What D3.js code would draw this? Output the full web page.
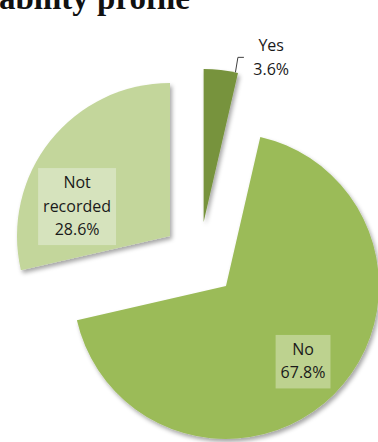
<!DOCTYPE html>
<html>
<head>
<meta charset="utf-8">
<script src="https://cdn.jsdelivr.net/npm/d3@7"></script>
<style>
  html, body { margin: 0; padding: 0; background: #fff; }
  svg { display: block; }
</style>
</head>
<body>
<svg id="chart" width="378" height="442"></svg>
<script>
// Slice data, drawn clockwise from 12 o'clock
const categories = ["Yes", "No", "Not recorded"];
const values = [3.6, 67.8, 28.6];
const labelLines = [["Yes", "3.6%"], ["No", "67.8%"], ["Not", "recorded", "28.6%"]];
const titleText = "ability profile";

const colors = d3.scaleOrdinal()
  .domain(categories)
  .range(["#77933c", "#9bbb59", "#c3d69b"]);
const boxColors = d3.scaleOrdinal()
  .domain(categories)
  .range(["none", "#bdd28f", "#d6e3bd"]);

const svg = d3.select("#chart");
const cx = 199.4, cy = 259.4;
const radius = 153;
const explode = 37.6;

// soft drop shadow under each slice
const defs = svg.append("defs");
const f = defs.append("filter").attr("id", "shadow")
  .attr("x", "-20%").attr("y", "-20%").attr("width", "140%").attr("height", "140%");
f.append("feDropShadow")
  .attr("dx", 2).attr("dy", 3).attr("stdDeviation", 2)
  .attr("flood-color", "#000").attr("flood-opacity", 0.35);

// title (runs off the top edge)
svg.append("text")
  .attr("x", -1).attr("y", 9)
  .attr("font-family", "'Liberation Serif', 'Times New Roman', serif")
  .attr("font-weight", "bold")
  .attr("font-size", 33)
  .attr("fill", "#111")
  .text(titleText);

const pie = d3.pie().sort(null).startAngle(0).endAngle(2 * Math.PI).value(d => d);
const arcs = pie(values);
const arc = d3.arc().innerRadius(0).outerRadius(radius);

function offsetOf(a) {
  const mid = (a.startAngle + a.endAngle) / 2;
  return [Math.sin(mid) * explode, -Math.cos(mid) * explode];
}

const g = svg.append("g").attr("transform", `translate(${cx},${cy})`);

const slices = g.selectAll("g.slice")
  .data(arcs)
  .join("g")
  .attr("class", "slice")
  .attr("transform", a => { const [dx, dy] = offsetOf(a); return `translate(${dx},${dy})`; });

slices.append("path")
  .attr("d", arc)
  .attr("fill", (a, i) => colors(categories[i]))
  .attr("filter", "url(#shadow)");

// label placement: angle (deg, clockwise from top) and distance from slice apex
const labelPlace = [
  { angle: 22.3, dist: 178 },   // outside, with leader
  { angle: 134.2, dist: 107.5 },
  { angle: 288, dist: 97.7 }
];
const fontFamily = "'Open Sans', 'Liberation Sans', sans-serif";
const fontSize = 16;
const lineH = 23.5;

arcs.forEach((a, i) => {
  const [dx, dy] = offsetOf(a);
  const p = labelPlace[i];
  const ang = p.angle * Math.PI / 180;
  const lx = cx + dx + Math.sin(ang) * p.dist;
  const ly = cy + dy - Math.cos(ang) * p.dist;
  const lines = labelLines[i];
  const lg = svg.append("g");
  const rect = lg.append("rect");
  const t = lg.append("text")
    .attr("font-family", fontFamily)
    .attr("font-size", fontSize)
    .attr("fill", "#1a1a1a")
    .attr("text-anchor", "middle");
  const top = ly - (lines.length - 1) * lineH / 2;
  lines.forEach((ln, k) => {
    t.append("tspan")
      .attr("x", lx)
      .attr("y", top + k * lineH)
      .attr("dy", "0.36em")
      .text(ln);
  });
  if (i === 0) {
    // leader from the slice's outer edge to the label
    const ea = a.endAngle - 0.017;
    const sx = cx + dx + Math.sin(ea) * radius;
    const sy = cy + dy - Math.cos(ea) * radius;
    const bx = sx + 2.5, by = ly;
    svg.append("path")
      .attr("d", `M${sx},${sy}L${bx},${by}L${bx + 6},${by}`)
      .attr("fill", "none")
      .attr("stroke", "#404040")
      .attr("stroke-width", 1);
    rect.remove();
  } else {
    const bb = t.node().getBBox();
    rect.attr("x", bb.x - 5).attr("y", bb.y - 3)
      .attr("width", bb.width + 10).attr("height", bb.height + 8)
      .attr("fill", boxColors(categories[i]));
  }
});
</script>
</body>
</html>
